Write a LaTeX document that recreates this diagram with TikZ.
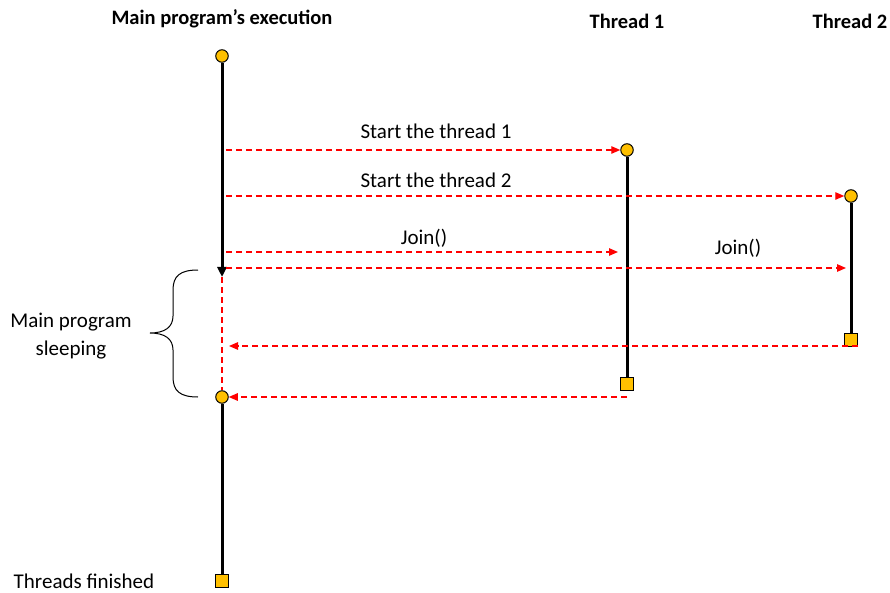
\documentclass[tikz,border=0pt]{standalone}
\usepackage{fontspec}
\setmainfont{Carlito}
\usetikzlibrary{arrows.meta}
\begin{document}
\begin{tikzpicture}[x=1pt,y=-1pt,
  start/.style={circle,draw=black,line width=1pt,fill=amber,minimum size=12.5pt,inner sep=0pt},
  finish/.style={rectangle,draw=black,line width=1pt,fill=amber,minimum size=13pt,inner sep=0pt},
  life/.style={line width=3pt,black},
  msg/.style={red,dash pattern=on 6pt off 4pt,line width=1.2pt,-{Triangle[length=9pt,width=7.5pt]}},
  wait/.style={red,dash pattern=on 6pt off 4pt,line width=1.2pt},
  title/.style={font=\bfseries\fontsize{20.5}{24}\selectfont},
  lbl/.style={font=\fontsize{21}{28}\selectfont}]
\definecolor{amber}{HTML}{FFC000}
\useasboundingbox (0,0) rectangle (890,593);

% column headings
\node[title] (h0) at (222,19) {Main program’s execution};
\node[title] (h1) at (627,21) {Thread 1};
\node[title] (h2) at (850,21) {Thread 2};

% start and end markers of each line of execution
\node[start] (m0) at (222,56) {};
\coordinate (m1) at (222,277);
\node[start] (m2) at (222,397) {};
\node[finish] (m3) at (222,581) {};
\node[start] (t1s) at (627,150) {};
\node[finish] (t1e) at (627,384) {};
\node[start] (t2s) at (851,196) {};
\node[finish] (t2e) at (851,340) {};

% lifelines
\draw[life,-{Triangle[length=10pt,width=9pt]}] (m0) -- (m1);
\draw[wait] (m1) -- (m2);
\draw[life] (m2) -- (m3);
\draw[life] (t1s) -- (t1e);
\draw[life] (t2s) -- (t2e);

% messages
\coordinate (a1) at (226,150);
\coordinate (a2) at (226,196);
\coordinate (a3) at (226,252);
\coordinate (b3) at (618,252);
\coordinate (a4) at (226,268);
\coordinate (b4) at (846,268);
\coordinate (r2) at (858,346);
\coordinate (e2) at (229,346);
\coordinate (r1) at (627,397);

\draw[msg] (a1) -- (t1s);
\draw[msg] (a2) -- (t2s);
\draw[msg] (a3) -- (b3);
\draw[msg] (a4) -- (b4);
\draw[msg] (r2) -- (e2);
\draw[msg] (r1) -- (m2);

\node[lbl] (l1) at (436,131) {Start the thread 1};
\node[lbl] (l2) at (436,180) {Start the thread 2};
\node[lbl] (l3) at (424,238) {Join()};
\node[lbl] (l4) at (738,248) {Join()};

% sleeping period: left curly brace
\coordinate (bt) at (198,270);
\coordinate (bb) at (198,397);
\draw[line width=1pt] (bt) .. controls (180,270) and (173,276) .. (173,290)
  -- (173,316) .. controls (173,327) and (165,333) .. (150,333)
  .. controls (165,333) and (173,339) .. (173,350)
  -- (173,377) .. controls (173,391) and (180,397) .. (bb);
\node[lbl,align=center] (sl) at (71,336) {Main program\\sleeping};
\node[lbl] (tf) at (84,581) {Threads finished};
\end{tikzpicture}
\end{document}
